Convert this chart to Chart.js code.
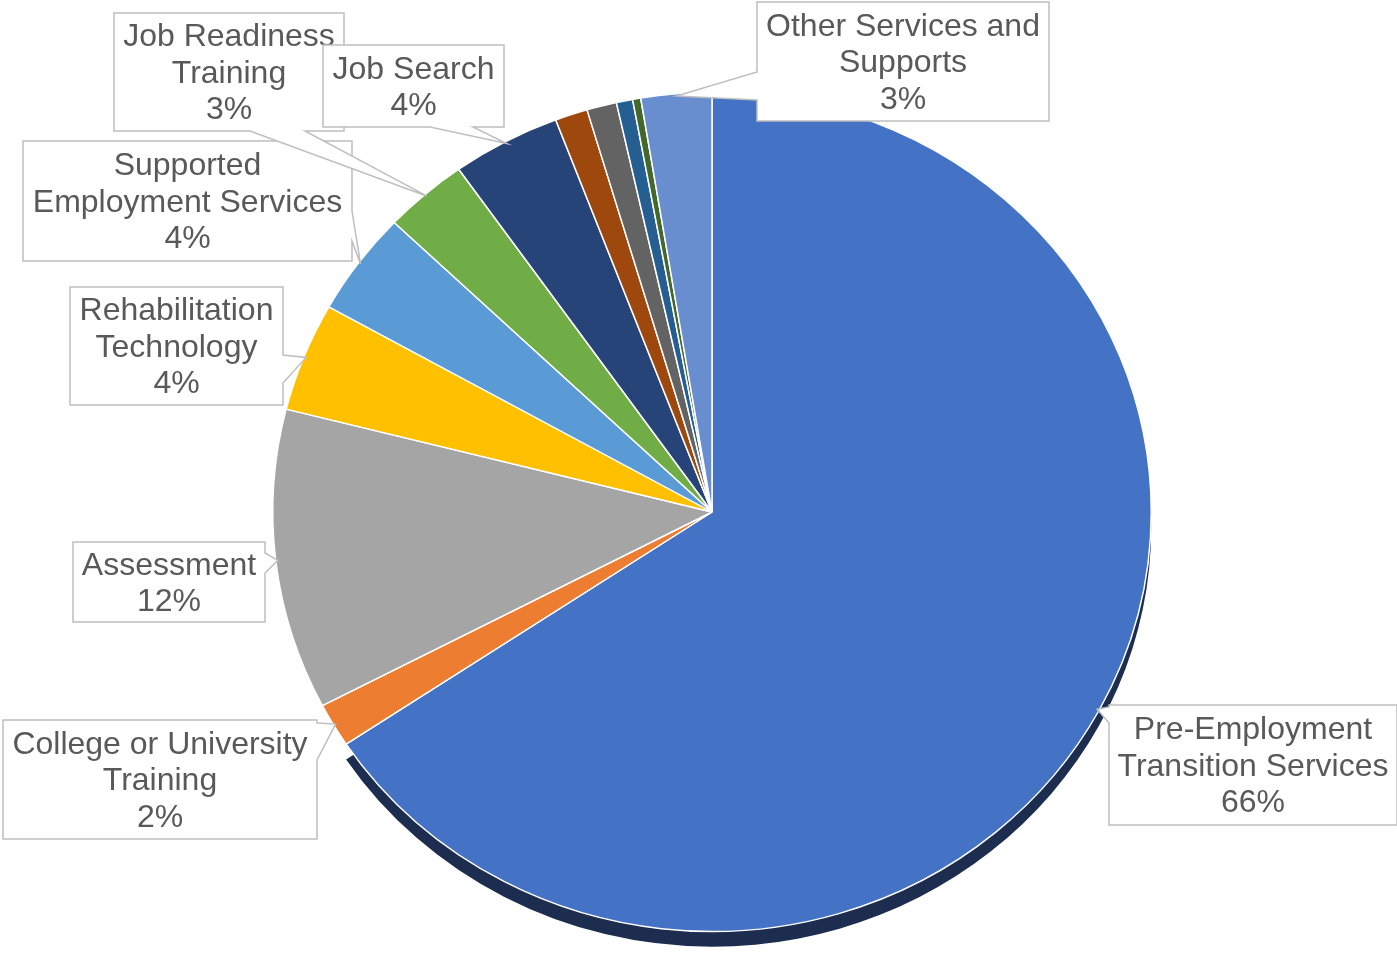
<!DOCTYPE html>
<html>
<head>
<meta charset="utf-8">
<script src="https://cdn.jsdelivr.net/npm/chart.js@4"></script>
<style>
  html, body { margin: 0; padding: 0; background: #fff; }
  #wrap { width: 1397px; height: 959px; position: relative; }
</style>
</head>
<body>
<div id="wrap"><canvas id="servicesChart"></canvas></div>
<script>
// Services share (percent)
const categories = [
    'Pre-Employment Transition Services',
    'College or University Training',
    'Assessment',
    'Rehabilitation Technology',
    'Supported Employment Services',
    'Job Readiness Training',
    'Job Search',
    'Transportation',
    'Maintenance',
    'Interpreter Services',
    'Reader Services',
    'Other Services and Supports'
];
const shares = [65.8, 1.7, 11.6, 4.2, 4.0, 3.1, 4.0, 1.2, 1.1, 0.6, 0.3, 2.6];
const sliceColors = [
    '#4472C4', '#ED7D31', '#A5A5A5', '#FFC000', '#5B9BD5', '#70AD47',
    '#264478', '#9E480E', '#636363', '#255E91', '#43682B', '#698ED0'
];

// Callout boxes: where each label sits and which side its pointer leaves from
const callouts = [
    { i: 0,  x: 1109, y: 705, w: 288, h: 120, side: 'left',   a: 2,   b: 18,  split: 1 },
    { i: 1,  x: 3,    y: 720, w: 314, h: 119, side: 'right',  a: 3,   b: 40,  split: 3 },
    { i: 2,  x: 73,   y: 542, w: 192, h: 80,  side: 'right',  a: 11,  b: 31,  split: 0 },
    { i: 3,  x: 70,   y: 287, w: 213, h: 118, side: 'right',  a: 68,  b: 96,  split: 1 },
    { i: 4,  x: 23,   y: 141, w: 329, h: 120, side: 'right',  a: 70,  b: 100, split: 1 },
    { i: 5,  x: 114,  y: 13,  w: 230, h: 118, side: 'bottom', a: 136, b: 191, split: 2 },
    { i: 6,  x: 323,  y: 45,  w: 181, h: 82,  side: 'bottom', a: 107, b: 150, split: 0 },
    { i: 11, x: 757,  y: 2,   w: 292, h: 119, side: 'left',   a: 70,  b: 98,  split: 3 }
];

const SQUASH = 0.955;   // pie is slightly tilted, drawn as an ellipse
const DEPTH = 16;       // dark rim under the big slice

// Squash the pie vertically and draw the dark rim under the first slice
const tiltPlugin = {
    id: 'tilt',
    beforeDatasetsDraw(chart) {
        const ctx = chart.ctx;
        const arc = chart.getDatasetMeta(0).data[0];
        ctx.save();
        ctx.translate(arc.x, arc.y);
        ctx.scale(1, SQUASH);
        ctx.translate(-arc.x, -arc.y);
        ctx.beginPath();
        ctx.moveTo(arc.x, arc.y + DEPTH);
        ctx.arc(arc.x, arc.y + DEPTH, arc.outerRadius, arc.startAngle, arc.endAngle);
        ctx.closePath();
        ctx.fillStyle = '#1C2D50';
        ctx.fill();
    },
    afterDatasetsDraw(chart) {
        chart.ctx.restore();
    }
};

function calloutPath(ctx, c, tip) {
    const { x, y, w, h, side, a, b } = c;
    ctx.beginPath();
    ctx.moveTo(x, y);
    if (side === 'top') { ctx.lineTo(x + a, y); ctx.lineTo(tip.x, tip.y); ctx.lineTo(x + b, y); }
    ctx.lineTo(x + w, y);
    if (side === 'right') { ctx.lineTo(x + w, y + a); ctx.lineTo(tip.x, tip.y); ctx.lineTo(x + w, y + b); }
    ctx.lineTo(x + w, y + h);
    if (side === 'bottom') { ctx.lineTo(x + b, y + h); ctx.lineTo(tip.x, tip.y); ctx.lineTo(x + a, y + h); }
    ctx.lineTo(x, y + h);
    if (side === 'left') { ctx.lineTo(x, y + b); ctx.lineTo(tip.x, tip.y); ctx.lineTo(x, y + a); }
    ctx.closePath();
}

// Excel-like wedge callouts with name and rounded percentage
const calloutPlugin = {
    id: 'callouts',
    afterDraw(chart) {
        const ctx = chart.ctx;
        const meta = chart.getDatasetMeta(0);
        const total = shares.reduce((s, v) => s + v, 0);
        ctx.save();
        callouts.forEach(c => {
            const arc = meta.data[c.i];
            const mid = (arc.startAngle + arc.endAngle) / 2;
            const r = arc.outerRadius * 0.995;
            const tip = {
                x: arc.x + r * Math.cos(mid),
                y: arc.y + r * Math.sin(mid) * SQUASH
            };
            calloutPath(ctx, c, tip);
            ctx.fillStyle = '#ffffff';
            ctx.fill();
            ctx.strokeStyle = '#BFBFBF';
            ctx.lineWidth = 1.5;
            ctx.stroke();

            const words = categories[c.i].split(' ');
            const lines = c.split > 0
                ? [words.slice(0, c.split).join(' '), words.slice(c.split).join(' ')]
                : [categories[c.i]];
            lines.push(Math.round(shares[c.i] / total * 100) + '%');

            ctx.font = '32px "Liberation Sans", Arial, sans-serif';
            ctx.fillStyle = '#595959';
            ctx.textAlign = 'center';
            ctx.textBaseline = 'middle';
            const lh = 36.5;
            const cy = c.y + c.h / 2 + 2;
            lines.forEach((t, k) => {
                ctx.fillText(t, c.x + c.w / 2, cy + (k - (lines.length - 1) / 2) * lh);
            });
        });
        ctx.restore();
    }
};

new Chart(document.getElementById('servicesChart'), {
    type: 'pie',
    data: {
        labels: categories,
        datasets: [{
            data: shares,
            backgroundColor: sliceColors,
            borderColor: '#ffffff',
            borderWidth: 1.5,
            clip: false
        }]
    },
    options: {
        responsive: true,
        maintainAspectRatio: false,
        animation: false,
        layout: {
            padding: { left: 272, right: 245, top: 72, bottom: 7 }
        },
        plugins: {
            legend: { display: false },
            tooltip: { enabled: false }
        }
    },
    plugins: [tiltPlugin, calloutPlugin]
});
</script>
</body>
</html>
